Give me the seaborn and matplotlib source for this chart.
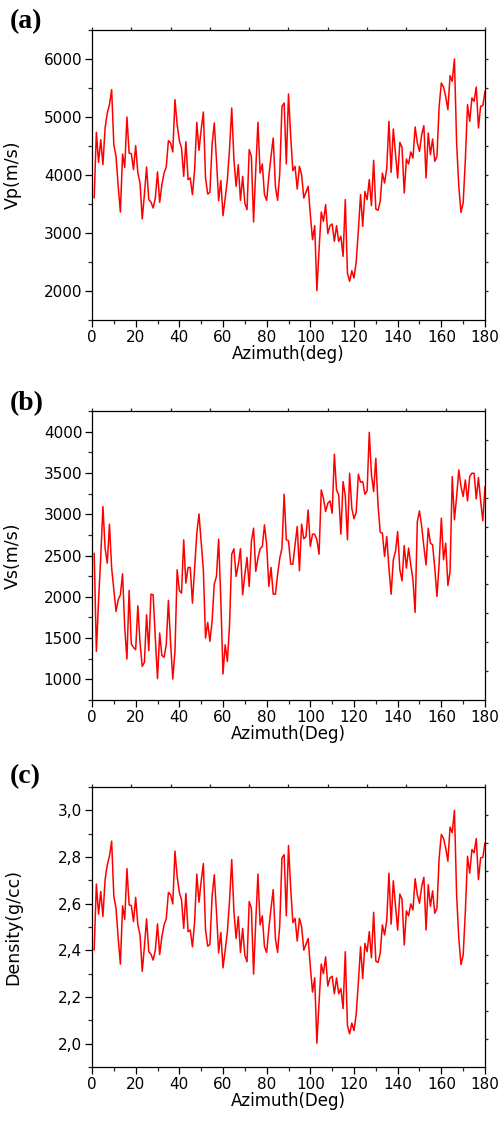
"""Vp, Vs and density versus azimuth, three stacked panels."""

import matplotlib
matplotlib.use("Agg")
import matplotlib.pyplot as plt
import numpy as np
import seaborn as sns
from matplotlib.ticker import FuncFormatter, MultipleLocator

sns.set_theme(style="ticks")
plt.rcParams["font.family"] = ["DejaVu Sans"]
plt.rcParams["text.color"] = "black"
plt.rcParams["axes.labelcolor"] = "black"

# Azimuth in degrees, one sample per degree.
azimuth = np.arange(1, 181)

# P-wave velocity (m/s).
vp = [
    3604, 4736, 4218, 4609, 4178, 4810, 5069, 5213, 5471, 4523,
    4322, 3805, 3362, 4362, 4132, 5000, 4379, 4368, 4092, 4506,
    4034, 3862, 3241, 3661, 4138, 3575, 3534, 3431, 3603, 4052,
    3529, 3833, 4034, 4138, 4592, 4552, 4397, 5299, 4868, 4592,
    4466, 3977, 4575, 3920, 3948, 3661, 4092, 4908, 4425, 4782,
    5086, 3948, 3672, 3701, 4523, 4897, 4264, 3557, 3908, 3299,
    3600, 3920, 4450, 5155, 4264, 3805, 4178, 3563, 3977, 3517,
    3402, 4437, 4322, 3190, 4092, 4908, 4034, 4190, 3661, 3563,
    3977, 4322, 4638, 3805, 3563, 4034, 5184, 5241, 4190, 5397,
    4667, 4075, 4149, 3759, 4149, 4006, 3603, 3701, 3805, 3316,
    2885, 3126, 2006, 2713, 3362, 3201, 3489, 2989, 3126, 3155,
    2856, 3126, 2856, 2943, 2598, 3575, 2310, 2167, 2350, 2224,
    2500, 3050, 3661, 3115, 3718, 3575, 3920, 3471, 4253, 3414,
    3391, 3546, 4034, 3862, 4121, 4925, 4046, 4793, 4379, 3948,
    4563, 4477, 3690, 4276, 4190, 4397, 4293, 4828, 4552, 4408,
    4695, 4851, 3948, 4724, 4351, 4621, 4236, 4322, 5184, 5586,
    5517, 5356, 5126, 5713, 5615, 6000, 4552, 3805, 3356, 3517,
    4264, 5213, 4925, 5328, 5270, 5517, 4810, 5184, 5195, 5443,
]

# S-wave velocity (m/s).
vs = [
    2528, 1339, 1950, 2480, 3093, 2589, 2407, 2879, 2347, 2085,
    1823, 1964, 2024, 2278, 1621, 1246, 2077, 1428, 1387, 1359,
    1891, 1440, 1157, 1206, 1782, 1347, 2032, 2024, 1500, 1008,
    1561, 1290, 1266, 1419, 1956, 1440, 1004, 1339, 2327, 2077,
    2044, 2690, 2165, 2355, 2355, 1923, 2347, 2770, 3004, 2669,
    2327, 1500, 1690, 1460, 1702, 2153, 2246, 2698, 1964, 1065,
    1419, 1218, 1661, 2516, 2581, 2246, 2387, 2581, 2024, 2266,
    2476, 2125, 2669, 2831, 2307, 2468, 2581, 2609, 2871, 2629,
    2125, 2355, 2032, 2032, 2266, 2468, 2589, 3242, 2690, 2677,
    2395, 2395, 2629, 2851, 2315, 2879, 2702, 2730, 3052, 2609,
    2758, 2758, 2690, 2516, 3294, 3194, 3032, 3133, 3161, 3012,
    3726, 3294, 3234, 2758, 3395, 3226, 2690, 3496, 3073, 2944,
    3024, 3484, 3387, 3395, 3242, 3282, 3992, 3476, 3274, 3677,
    3113, 2782, 2770, 2488, 2730, 2347, 2032, 2448, 2548, 2790,
    2327, 2194, 2621, 2347, 2589, 2387, 2206, 1811, 2911, 3040,
    2851, 2609, 2387, 2831, 2649, 2629, 2347, 2004, 2407, 2952,
    2448, 2649, 2137, 2307, 3456, 2932, 3214, 3536, 3335, 3214,
    3415, 3161, 3456, 3496, 3496, 3185, 3444, 3161, 2919, 3335,
]

# Bulk density (g/cc).
density = [
    2.401, 2.684, 2.555, 2.652, 2.545, 2.703, 2.767, 2.803, 2.868, 2.631,
    2.581, 2.451, 2.341, 2.591, 2.533, 2.750, 2.595, 2.592, 2.523, 2.627,
    2.509, 2.466, 2.310, 2.415, 2.535, 2.394, 2.384, 2.358, 2.401, 2.513,
    2.382, 2.458, 2.509, 2.535, 2.648, 2.638, 2.599, 2.825, 2.717, 2.648,
    2.617, 2.494, 2.644, 2.480, 2.487, 2.415, 2.523, 2.727, 2.606, 2.696,
    2.772, 2.487, 2.418, 2.425, 2.631, 2.724, 2.566, 2.389, 2.477, 2.325,
    2.400, 2.480, 2.613, 2.789, 2.566, 2.451, 2.545, 2.391, 2.494, 2.379,
    2.351, 2.609, 2.581, 2.298, 2.523, 2.727, 2.509, 2.548, 2.415, 2.391,
    2.494, 2.581, 2.660, 2.451, 2.391, 2.509, 2.796, 2.810, 2.548, 2.849,
    2.667, 2.519, 2.537, 2.440, 2.537, 2.502, 2.401, 2.425, 2.451, 2.329,
    2.221, 2.282, 2.002, 2.178, 2.341, 2.300, 2.372, 2.247, 2.282, 2.289,
    2.214, 2.282, 2.214, 2.236, 2.150, 2.394, 2.078, 2.042, 2.088, 2.056,
    2.125, 2.263, 2.415, 2.279, 2.430, 2.394, 2.480, 2.368, 2.563, 2.354,
    2.348, 2.387, 2.509, 2.466, 2.530, 2.731, 2.512, 2.698, 2.595, 2.487,
    2.641, 2.619, 2.423, 2.569, 2.548, 2.599, 2.573, 2.707, 2.638, 2.602,
    2.674, 2.713, 2.487, 2.681, 2.588, 2.655, 2.559, 2.581, 2.796, 2.897,
    2.879, 2.839, 2.782, 2.928, 2.904, 3.000, 2.638, 2.451, 2.339, 2.379,
    2.566, 2.803, 2.731, 2.832, 2.818, 2.879, 2.703, 2.796, 2.799, 2.861,
]

panel_tags = ["(a)", "(b)", "(c)"]
y_labels = ["Vp(m/s)", "Vs(m/s)", "Density(g/cc)"]
x_labels = ["Azimuth(deg)", "Azimuth(Deg)", "Azimuth(Deg)"]

W, H = 501, 1121
fig = plt.figure(figsize=(W / 100, H / 100), dpi=100)

# axes boxes in pixels: left, top, right, bottom
boxes = [(92, 30, 485, 320), (92, 411, 485, 700), (92, 787, 485, 1067)]
tag_y = [22, 404, 777]

settings = [
    (vp, (1500, 6500), 1000, 500, None),
    (vs, (750, 4250), 500, 250, None),
    (density, (1.9, 3.1), 0.2, 0.1,
     FuncFormatter(lambda v, _: f"{v:.1f}".replace(".", ","))),
]

for i, (values, ylim, major, minor, fmt) in enumerate(settings):
    l, t, r, b = boxes[i]
    ax = fig.add_axes([l / W, 1 - b / H, (r - l) / W, (b - t) / H])
    sns.lineplot(x=azimuth, y=values, ax=ax, color="red", lw=1.1)

    ax.set_xlim(0, 180)
    ax.set_ylim(*ylim)
    ax.xaxis.set_major_locator(MultipleLocator(20))
    ax.xaxis.set_minor_locator(MultipleLocator(10))
    ax.yaxis.set_major_locator(MultipleLocator(major))
    ax.yaxis.set_minor_locator(MultipleLocator(minor))
    if fmt is not None:
        ax.yaxis.set_major_formatter(fmt)

    ax.tick_params(which="major", direction="out", length=5, width=0.9,
                   labelsize=11, colors="black", pad=2)
    ax.tick_params(which="minor", direction="out", length=3, width=0.9)
    for sp in ax.spines.values():
        sp.set_visible(True)
        sp.set_linewidth(0.9)
        sp.set_color("black")

    ax.set_xlabel(x_labels[i], fontsize=12)
    ax.set_ylabel(y_labels[i], fontsize=12.5)
    ax.yaxis.set_label_coords(-70 / (r - l), 0.5)
    ax.xaxis.set_label_coords(0.5, -25 / (b - t))

    # small extra ticks on top and right frame
    top = ax.secondary_xaxis("top")
    top.set_xticks(np.arange(0, 181, 18))
    top.tick_params(length=2, width=0.9, labeltop=False)
    top.spines["top"].set_visible(False)
    right = ax.twinx()
    right.set_ylim(1500, 6500)
    right.set_yticks(np.arange(2000, 6001, 500))
    right.tick_params(length=2, width=0.9, labelright=False)
    right.grid(False)
    for sp in right.spines.values():
        sp.set_visible(False)

    fig.text(10 / W, 1 - tag_y[i] / H, panel_tags[i], fontsize=20,
             fontweight="bold", family="Liberation Serif", va="center")

fig.savefig("out.png", dpi=100)
